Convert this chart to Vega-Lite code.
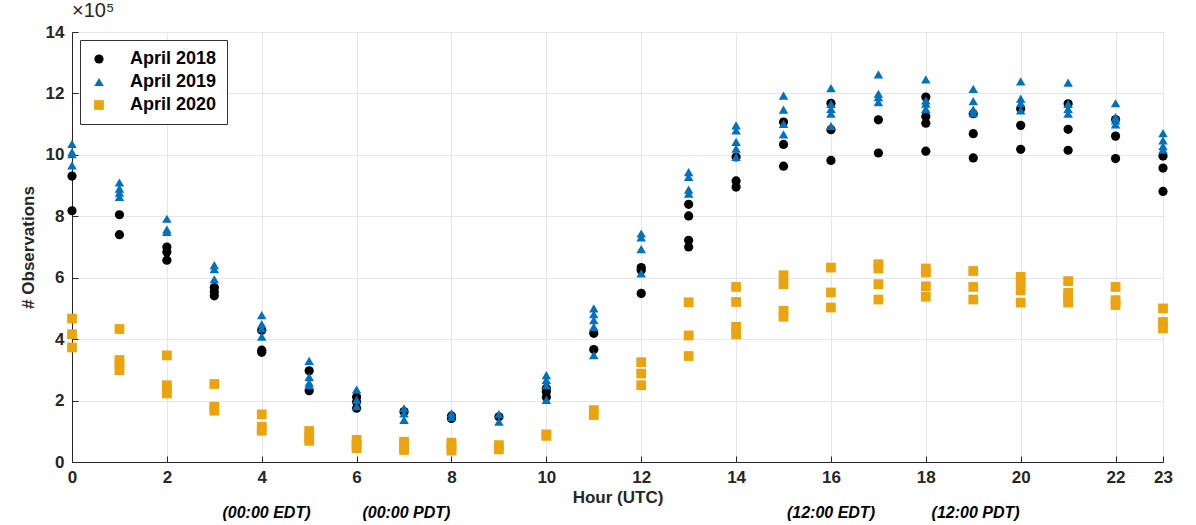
{
  "$schema": "https://vega.github.io/schema/vega-lite/v6.json",
  "width": 1091,
  "height": 430,
  "autosize": {"type": "none"},
  "padding": {"left": 72, "top": 32, "right": 33, "bottom": 63},
  "background": "white",
  "title": {"text": "×10⁵", "anchor": "start", "frame": "group", "offset": 2, "fontSize": 20, "fontWeight": "normal", "font": "Liberation Sans", "color": "#262626"},
  "config": {
    "font": "Liberation Sans",
    "view": {"stroke": "#d0d0d0", "strokeWidth": 1},
    "axis": {"labelFont": "Liberation Sans", "labelFontSize": 17, "labelFontWeight": "bold", "labelColor": "#262626", "titleFont": "Liberation Sans", "titleFontSize": 17, "titleFontWeight": "bold", "titleColor": "#262626", "gridColor": "#e6e6e6", "gridWidth": 1, "domainColor": "#262626", "tickColor": "#262626", "tickSize": -6, "domainWidth": 1}
  },
  "datasets": {
    "obs": [
      {"hour":0,"series":"April 2018","obs":9.31},{"hour":0,"series":"April 2018","obs":8.18},
      {"hour":1,"series":"April 2018","obs":8.05},{"hour":1,"series":"April 2018","obs":7.40},
      {"hour":2,"series":"April 2018","obs":7.00},{"hour":2,"series":"April 2018","obs":6.84},{"hour":2,"series":"April 2018","obs":6.57},
      {"hour":3,"series":"April 2018","obs":5.68},{"hour":3,"series":"April 2018","obs":5.54},{"hour":3,"series":"April 2018","obs":5.41},
      {"hour":4,"series":"April 2018","obs":4.29},{"hour":4,"series":"April 2018","obs":3.64},{"hour":4,"series":"April 2018","obs":3.57},
      {"hour":5,"series":"April 2018","obs":2.97},{"hour":5,"series":"April 2018","obs":2.32},
      {"hour":6,"series":"April 2018","obs":2.12},{"hour":6,"series":"April 2018","obs":1.95},{"hour":6,"series":"April 2018","obs":1.75},
      {"hour":7,"series":"April 2018","obs":1.64},
      {"hour":8,"series":"April 2018","obs":1.50},{"hour":8,"series":"April 2018","obs":1.42},
      {"hour":9,"series":"April 2018","obs":1.47},
      {"hour":10,"series":"April 2018","obs":2.40},{"hour":10,"series":"April 2018","obs":2.29},{"hour":10,"series":"April 2018","obs":2.12},
      {"hour":11,"series":"April 2018","obs":4.19},{"hour":11,"series":"April 2018","obs":3.66},
      {"hour":12,"series":"April 2018","obs":6.33},{"hour":12,"series":"April 2018","obs":6.24},{"hour":12,"series":"April 2018","obs":5.49},
      {"hour":13,"series":"April 2018","obs":8.39},{"hour":13,"series":"April 2018","obs":8.01},{"hour":13,"series":"April 2018","obs":7.22},{"hour":13,"series":"April 2018","obs":7.00},
      {"hour":14,"series":"April 2018","obs":9.93},{"hour":14,"series":"April 2018","obs":9.15},{"hour":14,"series":"April 2018","obs":8.95},
      {"hour":15,"series":"April 2018","obs":11.07},{"hour":15,"series":"April 2018","obs":10.34},{"hour":15,"series":"April 2018","obs":9.63},
      {"hour":16,"series":"April 2018","obs":11.68},{"hour":16,"series":"April 2018","obs":10.82},{"hour":16,"series":"April 2018","obs":9.82},
      {"hour":17,"series":"April 2018","obs":11.14},{"hour":17,"series":"April 2018","obs":10.06},
      {"hour":18,"series":"April 2018","obs":11.88},{"hour":18,"series":"April 2018","obs":11.25},{"hour":18,"series":"April 2018","obs":11.03},{"hour":18,"series":"April 2018","obs":10.12},
      {"hour":19,"series":"April 2018","obs":11.34},{"hour":19,"series":"April 2018","obs":10.69},{"hour":19,"series":"April 2018","obs":9.90},
      {"hour":20,"series":"April 2018","obs":11.50},{"hour":20,"series":"April 2018","obs":10.96},{"hour":20,"series":"April 2018","obs":10.18},
      {"hour":21,"series":"April 2018","obs":11.66},{"hour":21,"series":"April 2018","obs":10.83},{"hour":21,"series":"April 2018","obs":10.15},
      {"hour":22,"series":"April 2018","obs":11.15},{"hour":22,"series":"April 2018","obs":10.61},{"hour":22,"series":"April 2018","obs":9.88},
      {"hour":23,"series":"April 2018","obs":9.96},{"hour":23,"series":"April 2018","obs":9.57},{"hour":23,"series":"April 2018","obs":8.81},

      {"hour":0,"series":"April 2019","obs":10.36},{"hour":0,"series":"April 2019","obs":10.09},{"hour":0,"series":"April 2019","obs":10.02},{"hour":0,"series":"April 2019","obs":9.66},
      {"hour":1,"series":"April 2019","obs":9.10},{"hour":1,"series":"April 2019","obs":8.90},{"hour":1,"series":"April 2019","obs":8.77},{"hour":1,"series":"April 2019","obs":8.63},
      {"hour":2,"series":"April 2019","obs":7.92},{"hour":2,"series":"April 2019","obs":7.57},{"hour":2,"series":"April 2019","obs":7.49},
      {"hour":3,"series":"April 2019","obs":6.41},{"hour":3,"series":"April 2019","obs":6.28},{"hour":3,"series":"April 2019","obs":5.95},
      {"hour":4,"series":"April 2019","obs":4.78},{"hour":4,"series":"April 2019","obs":4.49},{"hour":4,"series":"April 2019","obs":4.35},{"hour":4,"series":"April 2019","obs":4.08},
      {"hour":5,"series":"April 2019","obs":3.29},{"hour":5,"series":"April 2019","obs":2.77},{"hour":5,"series":"April 2019","obs":2.58},{"hour":5,"series":"April 2019","obs":2.50},
      {"hour":6,"series":"April 2019","obs":2.36},{"hour":6,"series":"April 2019","obs":2.02},{"hour":6,"series":"April 2019","obs":1.82},
      {"hour":7,"series":"April 2019","obs":1.75},{"hour":7,"series":"April 2019","obs":1.58},{"hour":7,"series":"April 2019","obs":1.37},
      {"hour":8,"series":"April 2019","obs":1.58},{"hour":8,"series":"April 2019","obs":1.47},
      {"hour":9,"series":"April 2019","obs":1.56},{"hour":9,"series":"April 2019","obs":1.31},
      {"hour":10,"series":"April 2019","obs":2.83},{"hour":10,"series":"April 2019","obs":2.67},{"hour":10,"series":"April 2019","obs":2.50},{"hour":10,"series":"April 2019","obs":2.02},
      {"hour":11,"series":"April 2019","obs":5.00},{"hour":11,"series":"April 2019","obs":4.81},{"hour":11,"series":"April 2019","obs":4.62},{"hour":11,"series":"April 2019","obs":4.40},{"hour":11,"series":"April 2019","obs":3.48},
      {"hour":12,"series":"April 2019","obs":7.44},{"hour":12,"series":"April 2019","obs":7.31},{"hour":12,"series":"April 2019","obs":6.93},{"hour":12,"series":"April 2019","obs":6.14},
      {"hour":13,"series":"April 2019","obs":9.44},{"hour":13,"series":"April 2019","obs":9.28},{"hour":13,"series":"April 2019","obs":8.87},{"hour":13,"series":"April 2019","obs":8.74},
      {"hour":14,"series":"April 2019","obs":10.96},{"hour":14,"series":"April 2019","obs":10.80},{"hour":14,"series":"April 2019","obs":10.42},{"hour":14,"series":"April 2019","obs":10.20},{"hour":14,"series":"April 2019","obs":9.93},
      {"hour":15,"series":"April 2019","obs":11.93},{"hour":15,"series":"April 2019","obs":11.47},{"hour":15,"series":"April 2019","obs":11.01},{"hour":15,"series":"April 2019","obs":10.67},
      {"hour":16,"series":"April 2019","obs":12.17},{"hour":16,"series":"April 2019","obs":11.66},{"hour":16,"series":"April 2019","obs":11.50},{"hour":16,"series":"April 2019","obs":11.34},{"hour":16,"series":"April 2019","obs":10.94},
      {"hour":17,"series":"April 2019","obs":12.62},{"hour":17,"series":"April 2019","obs":11.99},{"hour":17,"series":"April 2019","obs":11.88},{"hour":17,"series":"April 2019","obs":11.72},
      {"hour":18,"series":"April 2019","obs":12.46},{"hour":18,"series":"April 2019","obs":11.77},{"hour":18,"series":"April 2019","obs":11.67},{"hour":18,"series":"April 2019","obs":11.50},
      {"hour":19,"series":"April 2019","obs":12.15},{"hour":19,"series":"April 2019","obs":11.75},{"hour":19,"series":"April 2019","obs":11.47},{"hour":19,"series":"April 2019","obs":11.36},
      {"hour":20,"series":"April 2019","obs":12.39},{"hour":20,"series":"April 2019","obs":11.83},{"hour":20,"series":"April 2019","obs":11.68},{"hour":20,"series":"April 2019","obs":11.45},
      {"hour":21,"series":"April 2019","obs":12.35},{"hour":21,"series":"April 2019","obs":11.66},{"hour":21,"series":"April 2019","obs":11.50},{"hour":21,"series":"April 2019","obs":11.34},
      {"hour":22,"series":"April 2019","obs":11.68},{"hour":22,"series":"April 2019","obs":11.23},{"hour":22,"series":"April 2019","obs":11.12},{"hour":22,"series":"April 2019","obs":10.99},
      {"hour":23,"series":"April 2019","obs":10.71},{"hour":23,"series":"April 2019","obs":10.47},{"hour":23,"series":"April 2019","obs":10.28},{"hour":23,"series":"April 2019","obs":10.17},

      {"hour":0,"series":"April 2020","obs":4.67},{"hour":0,"series":"April 2020","obs":4.16},{"hour":0,"series":"April 2020","obs":3.73},
      {"hour":1,"series":"April 2020","obs":4.33},{"hour":1,"series":"April 2020","obs":3.32},{"hour":1,"series":"April 2020","obs":3.19},{"hour":1,"series":"April 2020","obs":2.99},
      {"hour":2,"series":"April 2020","obs":3.47},{"hour":2,"series":"April 2020","obs":2.50},{"hour":2,"series":"April 2020","obs":2.36},{"hour":2,"series":"April 2020","obs":2.23},
      {"hour":3,"series":"April 2020","obs":2.54},{"hour":3,"series":"April 2020","obs":1.80},{"hour":3,"series":"April 2020","obs":1.67},
      {"hour":4,"series":"April 2020","obs":1.55},{"hour":4,"series":"April 2020","obs":1.15},{"hour":4,"series":"April 2020","obs":1.02},
      {"hour":5,"series":"April 2020","obs":1.01},{"hour":5,"series":"April 2020","obs":0.80},{"hour":5,"series":"April 2020","obs":0.69},
      {"hour":6,"series":"April 2020","obs":0.72},{"hour":6,"series":"April 2020","obs":0.55},{"hour":6,"series":"April 2020","obs":0.45},
      {"hour":7,"series":"April 2020","obs":0.66},{"hour":7,"series":"April 2020","obs":0.50},{"hour":7,"series":"April 2020","obs":0.39},
      {"hour":8,"series":"April 2020","obs":0.63},{"hour":8,"series":"April 2020","obs":0.50},{"hour":8,"series":"April 2020","obs":0.37},
      {"hour":9,"series":"April 2020","obs":0.55},{"hour":9,"series":"April 2020","obs":0.41},
      {"hour":10,"series":"April 2020","obs":0.90},{"hour":10,"series":"April 2020","obs":0.85},
      {"hour":11,"series":"April 2020","obs":1.69},{"hour":11,"series":"April 2020","obs":1.53},
      {"hour":12,"series":"April 2020","obs":3.25},{"hour":12,"series":"April 2020","obs":2.88},{"hour":12,"series":"April 2020","obs":2.50},
      {"hour":13,"series":"April 2020","obs":5.20},{"hour":13,"series":"April 2020","obs":4.12},{"hour":13,"series":"April 2020","obs":3.45},
      {"hour":14,"series":"April 2020","obs":5.70},{"hour":14,"series":"April 2020","obs":5.21},{"hour":14,"series":"April 2020","obs":4.40},{"hour":14,"series":"April 2020","obs":4.16},
      {"hour":15,"series":"April 2020","obs":6.08},{"hour":15,"series":"April 2020","obs":5.79},{"hour":15,"series":"April 2020","obs":4.92},{"hour":15,"series":"April 2020","obs":4.73},
      {"hour":16,"series":"April 2020","obs":6.33},{"hour":16,"series":"April 2020","obs":5.52},{"hour":16,"series":"April 2020","obs":5.03},
      {"hour":17,"series":"April 2020","obs":6.44},{"hour":17,"series":"April 2020","obs":6.30},{"hour":17,"series":"April 2020","obs":5.79},{"hour":17,"series":"April 2020","obs":5.29},
      {"hour":18,"series":"April 2020","obs":6.30},{"hour":18,"series":"April 2020","obs":6.17},{"hour":18,"series":"April 2020","obs":5.72},{"hour":18,"series":"April 2020","obs":5.38},
      {"hour":19,"series":"April 2020","obs":6.22},{"hour":19,"series":"April 2020","obs":5.70},{"hour":19,"series":"April 2020","obs":5.29},
      {"hour":20,"series":"April 2020","obs":6.03},{"hour":20,"series":"April 2020","obs":5.86},{"hour":20,"series":"April 2020","obs":5.59},{"hour":20,"series":"April 2020","obs":5.19},
      {"hour":21,"series":"April 2020","obs":5.89},{"hour":21,"series":"April 2020","obs":5.51},{"hour":21,"series":"April 2020","obs":5.36},{"hour":21,"series":"April 2020","obs":5.19},
      {"hour":22,"series":"April 2020","obs":5.70},{"hour":22,"series":"April 2020","obs":5.27},{"hour":22,"series":"April 2020","obs":5.11},
      {"hour":23,"series":"April 2020","obs":5.00},{"hour":23,"series":"April 2020","obs":4.56},{"hour":23,"series":"April 2020","obs":4.35}
    ],
    "notes": [
      {"hour": 4.1, "note": "(00:00 EDT)"},
      {"hour": 7.05, "note": "(00:00 PDT)"},
      {"hour": 16, "note": "(12:00 EDT)"},
      {"hour": 19.05, "note": "(12:00 PDT)"}
    ]
  },
  "layer": [
    {
      "data": {"name": "obs"},
      "mark": {"type": "point", "filled": true, "opacity": 1},
      "encoding": {
        "x": {"field": "hour", "type": "quantitative", "scale": {"domain": [0, 23], "nice": false, "zero": false},
              "axis": {"title": "Hour (UTC)", "values": [0,2,4,6,8,10,12,14,16,18,20,22,23], "labelPadding": 13, "titlePadding": 4, "grid": true, "labelFlush": false}},
        "y": {"field": "obs", "type": "quantitative", "scale": {"domain": [0, 14], "nice": false},
              "axis": {"title": "# Observations", "values": [0,2,4,6,8,10,12,14], "labelPadding": 14, "titlePadding": 8, "grid": true}},
        "color": {"field": "series", "type": "nominal", "scale": {"domain": ["April 2018","April 2019","April 2020"], "range": ["#000000","#0072BD","#EBA40E"]},
                  "legend": {"title": null, "orient": "top-left", "offset": 8, "labelFontSize": 18, "labelFontWeight": "bold", "labelColor": "#000000", "labelFont": "Liberation Sans", "symbolSize": 80, "strokeColor": "#333333", "fillColor": "white", "padding": 10, "rowPadding": 5, "labelOffset": 22, "symbolOpacity": 1}},
        "shape": {"field": "series", "type": "nominal", "scale": {"domain": ["April 2018","April 2019","April 2020"], "range": ["circle","triangle-up","square"]}, "legend": {"title": null}},
        "size": {"field": "series", "type": "nominal", "scale": {"domain": ["April 2018","April 2019","April 2020"], "range": [85, 95, 45]}, "legend": null}
      }
    },
    {
      "data": {"name": "notes"},
      "mark": {"type": "text", "fontSize": 16, "fontWeight": "bold", "fontStyle": "italic", "color": "#000000", "font": "Liberation Sans", "baseline": "middle", "align": "center"},
      "encoding": {
        "x": {"field": "hour", "type": "quantitative"},
        "y": {"datum": -1.66, "type": "quantitative"},
        "text": {"field": "note"}
      }
    }
  ]
}
